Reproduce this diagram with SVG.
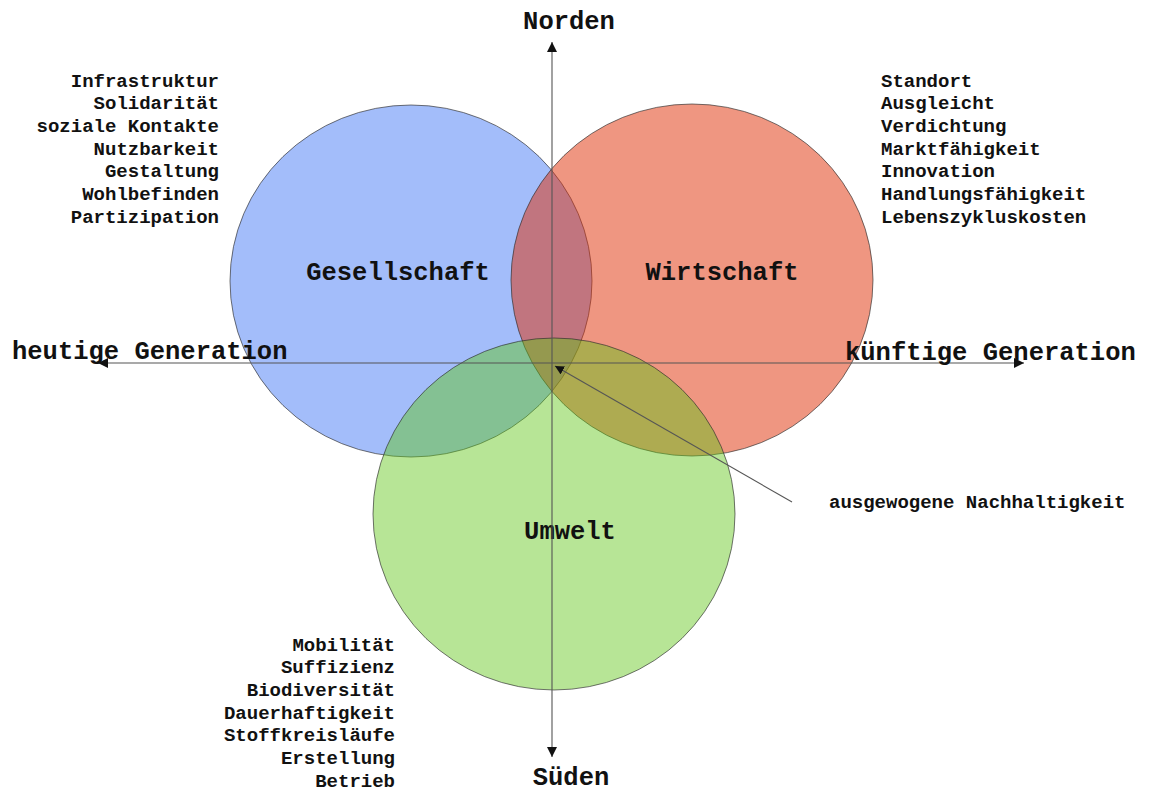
<svg xmlns="http://www.w3.org/2000/svg" width="1149" height="792" viewBox="0 0 1149 792">
<style>
  .circle{stroke:#2a2a2a;stroke-opacity:0.65;stroke-width:1}
  .big{font-family:"Liberation Mono","Courier New",monospace;font-weight:bold;font-size:25.5px;fill:#111}
  .list{font-family:"Liberation Mono","Courier New",monospace;font-weight:bold;font-size:19px;fill:#111}
  .axis{stroke:#555;stroke-width:1.1;fill:none}
</style>
<defs>
  <marker id="arr" viewBox="0 0 10 10" refX="10" refY="5" markerWidth="10" markerHeight="10" markerUnits="userSpaceOnUse" orient="auto">
    <path d="M0,0 L10,5 L0,10 Z" fill="#111"/>
  </marker>
  <marker id="arrS" viewBox="0 0 10 10" refX="10" refY="5" markerWidth="9" markerHeight="9" markerUnits="userSpaceOnUse" orient="auto">
    <path d="M0,0 L10,5 L0,10 Z" fill="#111"/>
  </marker>
</defs>
<rect width="1149" height="792" fill="#fff"/>

<g id="gesellschaft">
  <ellipse class="circle" cx="411" cy="281" rx="181" ry="176" fill="rgb(71,123,245)" fill-opacity="0.5"/>
  <text class="big" x="398" y="280" text-anchor="middle">Gesellschaft</text>
</g>
<g id="wirtschaft">
  <ellipse class="circle" cx="692" cy="280" rx="181" ry="176" fill="rgb(223,45,3)" fill-opacity="0.5"/>
  <text class="big" x="722" y="280" text-anchor="middle">Wirtschaft</text>
</g>
<g id="umwelt">
  <ellipse class="circle" cx="554" cy="514" rx="181" ry="176" fill="rgb(95,198,22)" fill-opacity="0.45"/>
  <text class="big" x="570" y="539" text-anchor="middle">Umwelt</text>
</g>

<g id="connectors">
  <line class="axis" x1="552" y1="364" x2="552" y2="42" marker-end="url(#arr)"/>
  <line class="axis" x1="552" y1="364" x2="552" y2="757" marker-end="url(#arr)"/>
  <line class="axis" x1="552" y1="363" x2="98" y2="363" marker-end="url(#arr)"/>
  <line class="axis" x1="552" y1="363" x2="1024" y2="363" marker-end="url(#arr)"/>
  <line class="axis" x1="792" y1="502" x2="555" y2="366" marker-end="url(#arrS)"/>
</g>

<g id="norden"><text class="big" x="569" y="29" text-anchor="middle">Norden</text></g>
<g id="sueden"><text class="big" x="571" y="785" text-anchor="middle">Süden</text></g>
<g id="heutige"><text class="big" x="12" y="359">heutige Generation</text></g>
<g id="kuenftige"><text class="big" x="845" y="360">künftige Generation</text></g>
<g id="nachhaltigkeit"><text class="list" x="829" y="508">ausgewogene Nachhaltigkeit</text></g>

<g id="liste-gesellschaft">
  <text class="list" x="219" y="86.7" text-anchor="end">Infrastruktur</text>
  <text class="list" x="219" y="109.3" text-anchor="end">Solidarität</text>
  <text class="list" x="219" y="132" text-anchor="end">soziale Kontakte</text>
  <text class="list" x="219" y="154.7" text-anchor="end">Nutzbarkeit</text>
  <text class="list" x="219" y="177.3" text-anchor="end">Gestaltung</text>
  <text class="list" x="219" y="200" text-anchor="end">Wohlbefinden</text>
  <text class="list" x="219" y="222.7" text-anchor="end">Partizipation</text>
</g>
<g id="liste-wirtschaft">
  <text class="list" x="881" y="86.7">Standort</text>
  <text class="list" x="881" y="109.3">Ausgleicht</text>
  <text class="list" x="881" y="132">Verdichtung</text>
  <text class="list" x="881" y="154.7">Marktfähigkeit</text>
  <text class="list" x="881" y="177.3">Innovation</text>
  <text class="list" x="881" y="200">Handlungsfähigkeit</text>
  <text class="list" x="881" y="222.7">Lebenszykluskosten</text>
</g>
<g id="liste-umwelt">
  <text class="list" x="395" y="650.7" text-anchor="end">Mobilität</text>
  <text class="list" x="395" y="673.3" text-anchor="end">Suffizienz</text>
  <text class="list" x="395" y="696" text-anchor="end">Biodiversität</text>
  <text class="list" x="395" y="718.7" text-anchor="end">Dauerhaftigkeit</text>
  <text class="list" x="395" y="741.3" text-anchor="end">Stoffkreisläufe</text>
  <text class="list" x="395" y="764" text-anchor="end">Erstellung</text>
  <text class="list" x="395" y="786.7" text-anchor="end">Betrieb</text>
</g>
</svg>
